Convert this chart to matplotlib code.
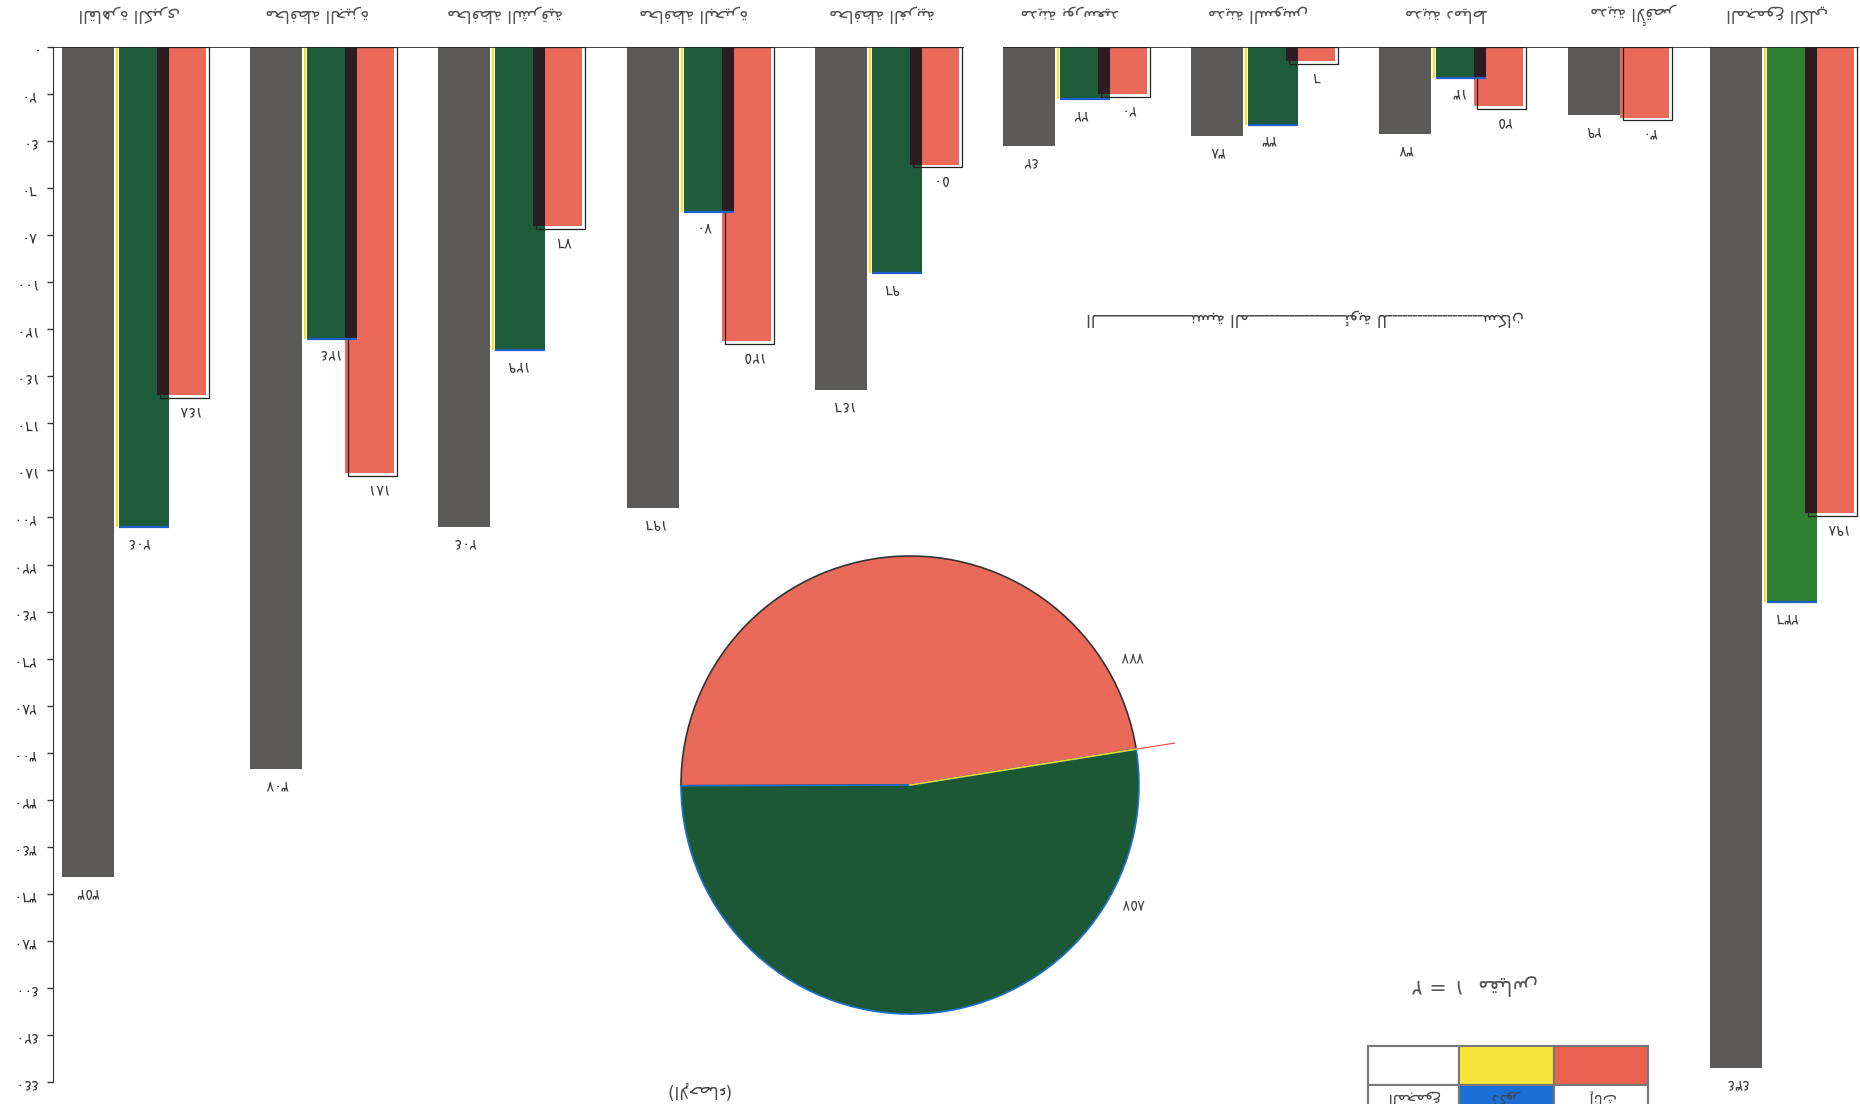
import numpy as np
import matplotlib.pyplot as plt
from matplotlib.patches import Rectangle

plt.rcParams['font.family'] = ['DejaVu Sans', 'Noto Sans']

# data
group_labels = ['القاهرة الكبرى', 'محافظة الجيزة', 'محافظة الشرقية', 'محافظة البحيرة',
                'محافظة الغربية', 'مدينة بورسعيد', 'مدينة السويس', 'مدينة دمياط',
                'مدينة الأقصر', 'المجموع الكلي']
gray_vals = [353, 307, 204, 196, 146, 42, 38, 37, 29, 434]
green_vals = [204, 124, 129, 70, 96, 22, 33, 13, 0, 236]
red_vals = [148, 181, 76, 125, 50, 20, 6, 25, 30, 198]
pie_vals = [777, 857]
y_ticks = list(range(0, 441, 20))
legend_words = ['المجموع', 'ذكور', 'إناث']
middle_text = 'الـــــــــــــــــــنسبة المـــــــــــــــــــئوية للـــــــــــــــــــسكان'
title_text = 'الإحصاء'
scale_word = 'مقياس'

# ---- minimal arabic shaping (matplotlib draws letters unjoined otherwise)
DUAL = {'ب': 0xFE8F, 'ت': 0xFE95, 'ث': 0xFE99, 'ج': 0xFE9D, 'ح': 0xFEA1, 'خ': 0xFEA5,
        'س': 0xFEB1, 'ش': 0xFEB5, 'ص': 0xFEB9, 'ض': 0xFEBD, 'ط': 0xFEC1, 'ظ': 0xFEC5,
        'ع': 0xFEC9, 'غ': 0xFECD, 'ف': 0xFED1, 'ق': 0xFED5, 'ك': 0xFED9, 'ل': 0xFEDD,
        'م': 0xFEE1, 'ن': 0xFEE5, 'ه': 0xFEE9, 'ي': 0xFEF1, 'ئ': 0xFE89}
RIGHT = {'ا': 0xFE8D, 'أ': 0xFE83, 'إ': 0xFE87, 'آ': 0xFE81, 'ة': 0xFE93, 'د': 0xFEA9,
         'ذ': 0xFEAB, 'ر': 0xFEAD, 'ز': 0xFEAF, 'و': 0xFEED, 'ؤ': 0xFE85, 'ى': 0xFEEF}
LAMALEF = {'آ': 0xFEF5, 'أ': 0xFEF7, 'إ': 0xFEF9, 'ا': 0xFEFB}
TATWEEL = 'ـ'


def shape(word):
    chars = list(word)
    out = []
    i = 0
    while i < len(chars):
        c = chars[i]
        prev = chars[i - 1] if i > 0 else ''
        nxt = chars[i + 1] if i + 1 < len(chars) else ''
        jp = prev in DUAL or prev == TATWEEL
        if c == 'ل' and nxt in LAMALEF:
            out.append(chr(LAMALEF[nxt] + (1 if jp else 0)))
            i += 2
            continue
        if c in DUAL:
            jn = nxt in DUAL or nxt in RIGHT or nxt == TATWEEL
            k = 3 if (jp and jn) else 1 if jp else 2 if jn else 0
            out.append(chr(DUAL[c] + k))
        elif c in RIGHT:
            out.append(chr(RIGHT[c] + (1 if jp else 0)))
        else:
            out.append(c)
        i += 1
    return ''.join(out)


def ar(text):
    return shape(text)[::-1]


def ar_num(n):
    return str(n).translate(str.maketrans('0123456789', '٠١٢٣٤٥٦٧٨٩'))


GRAY = '#5b5a59'
GREEN = '#1d5b3b'
GREEN_TOTAL = '#2f7f33'
RED = '#ea6a5a'
DARK = '#2b1d22'
LABEL = '#3a3a3a'

W, H = 1860, 1104
fig = plt.figure(figsize=(W / 100, H / 100), dpi=100)
fig.patch.set_facecolor('white')


def fx(px):
    return px / W


def fy(py):
    return 1 - py / H


ax = fig.add_axes([fx(53), fy(1082), fx(1860) - fx(53), fy(47) - fy(1082)])
ax.set_xlim(53, 1860)
ax.set_ylim(440, 0)

# group layout: anchor = left edge of the green bar
anchors = [119 + i * 188.2 for i in range(9)] + [1767]

for i, a in enumerate(anchors):
    gv, gr, rd = gray_vals[i], green_vals[i], red_vals[i]
    ax.bar(a - 57, gv, 52, align='edge', color=GRAY)
    ax.annotate(ar_num(gv), (a - 31, gv), xytext=(0, -11), textcoords='offset points',
                ha='center', va='center', rotation=180, fontsize=10.5, color=LABEL)
    if gr > 0:
        gcol = GREEN_TOTAL if i == len(anchors) - 1 else GREEN
        ax.bar(a, gr, 50, align='edge', color=gcol)
        ax.vlines(a - 2, 0, gr, color='#f0e030', lw=1.6)
        ax.hlines(gr, a, a + 50, color='#1f5fc8', lw=1.6)
        ax.annotate(ar_num(gr), (a + 20, gr), xytext=(0, -11), textcoords='offset points',
                    ha='center', va='center', rotation=180, fontsize=10.5, color=LABEL)
        rx = a + 38
    else:
        rx = a - 5
    ax.bar(rx, rd, 49, align='edge', color=RED)
    ax.add_patch(Rectangle((rx + 3, 0), 49, rd + 1.2, fill=False, ec='#222', lw=0.9))
    if gr > 0:
        ax.bar(a + 38, min(gr, rd), 12, align='edge', color=DARK)
    ax.annotate(ar_num(rd), (rx + 30, rd), xytext=(0, -11), textcoords='offset points',
                ha='center', va='center', rotation=180, fontsize=10.5, color=LABEL)
    ax.text(a + 10, -14, ar(group_labels[i]), rotation=180, ha='center', va='center',
            fontsize=12, color='#505050', clip_on=False)

# baseline segments
ax.hlines(0, 53, anchors[4] + 92, color='#222', lw=1.2)
ax.hlines(0, anchors[5] - 57, anchors[8] + 92, color='#222', lw=1.2)
ax.hlines(0, anchors[9] - 57, anchors[9] + 92, color='#222', lw=1.2)

ax.set_yticks(y_ticks)
ax.set_yticklabels([ar_num(v) for v in y_ticks], rotation=180, fontsize=10.5, color='#333')
ax.tick_params(axis='y', length=4, width=1, pad=8, colors='#333')
ax.set_xticks([])
for s in ['top', 'right', 'bottom']:
    ax.spines[s].set_visible(False)
ax.spines['left'].set_color('#333')
ax.set_facecolor('none')

# pie
cx, cy, r = 910, 785, 229
pax = fig.add_axes([fx(cx - 1.25 * r), fy(cy + 1.02 * r), fx(2.5 * r), (2.04 * r) / H])
start = 9
wedges, _ = pax.pie(pie_vals, colors=[RED, '#1b5936'], startangle=start,
                    counterclock=True, radius=1, wedgeprops=dict(linewidth=1.2))
wedges[0].set_edgecolor('#333')
wedges[1].set_edgecolor('#1f6fd0')
a0 = np.deg2rad(start)
pax.plot([np.cos(a0), 1.17 * np.cos(a0)], [np.sin(a0), 1.17 * np.sin(a0)], color='#e04848', lw=0.8)
pax.plot([0, np.cos(a0)], [0, np.sin(a0)], color='#e8d830', lw=1.2)
pax.text(1.12 * np.cos(np.deg2rad(30)), 1.12 * np.sin(np.deg2rad(30)), ar_num(pie_vals[0]),
         rotation=180, ha='center', va='center', fontsize=10.5, color='#444')
pax.text(1.1 * np.cos(np.deg2rad(-28)), 1.1 * np.sin(np.deg2rad(-28)), ar_num(pie_vals[1]),
         rotation=180, ha='center', va='center', fontsize=10.5, color='#444')
pax.set_xlim(-1.25, 1.25)
pax.set_ylim(-1.02, 1.02)
pax.set_aspect('equal')
pax.axis('off')

# texts
fig.text(fx(1305), fy(318), ar(middle_text), rotation=180, ha='center', va='center',
         fontsize=12, color='#444')
fig.text(fx(697), fy(1090), '(' + ar(title_text) + ')', rotation=180, ha='center',
         va='center', fontsize=12, color='#444')
fig.text(fx(1475), fy(985), ar(scale_word) + '  ١ = ٢', rotation=180, ha='center',
         va='center', fontsize=15, color='#555')

# legend table
cols = [1368, 1459, 1554, 1648]
rows = [1046, 1085, 1140]
top_colors = ['white', '#f5e53a', '#e8624f']
bot_colors = ['white', '#1c6fd6', 'white']
for j in range(3):
    for k, colors in enumerate([top_colors, bot_colors]):
        x0, x1 = cols[j], cols[j + 1]
        y0, y1 = rows[k], rows[k + 1]
        fig.add_artist(Rectangle((fx(x0), fy(y1)), fx(x1 - x0), (y1 - y0) / H,
                                 transform=fig.transFigure, fc=colors[j], ec='#777', lw=1.5))
    fig.text(fx((cols[j] + cols[j + 1]) / 2), fy(1097), ar(legend_words[j]), rotation=180,
             ha='center', va='center', fontsize=11, color='#444')

fig.savefig('out.png', dpi=100, facecolor='white')
